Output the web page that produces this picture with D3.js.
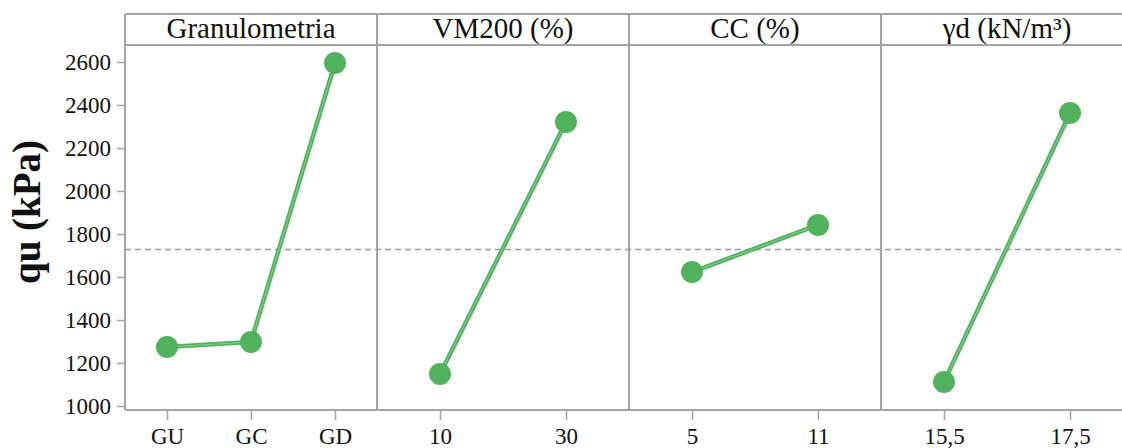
<!DOCTYPE html>
<html>
<head>
<meta charset="utf-8">
<script src="https://cdn.jsdelivr.net/npm/d3@7"></script>
<style>
  html, body { margin: 0; padding: 0; background: #fff; }
  svg { display: block; }
</style>
</head>
<body>
<svg id="chart" width="1122" height="448"></svg>
<script>
// Main-effects plot for qu (kPa): one panel per factor
const factors = ["Granulometria", "VM200 (%)", "CC (%)", "γd (kN/m³)"];
const levelsGranulometria = ["GU", "GC", "GD"];
const levelsVM200 = ["10", "30"];
const levelsCC = ["5", "11"];
const levelsGd = ["15,5", "17,5"];
const quGranulometria = [1274, 1298, 2595];
const quVM200 = [1149, 2321];
const quCC = [1623, 1842];
const quGd = [1112, 2363];
const grandMean = 1728;
const yTicks = [1000, 1200, 1400, 1600, 1800, 2000, 2200, 2400, 2600];

const panels = [
  { title: factors[0], levels: levelsGranulometria, values: quGranulometria },
  { title: factors[1], levels: levelsVM200, values: quVM200 },
  { title: factors[2], levels: levelsCC, values: quCC },
  { title: factors[3], levels: levelsGd, values: quGd }
];

const svg = d3.select("#chart");
const marginLeft = 125, panelW = 252, frameTop = 14, headerH = 31, frameBottom = 410;
const plotTop = frameTop + headerH;
const frameColor = "#a3a3a3";
const green = "#51b25d";
const font = "'Liberation Serif', 'Times New Roman', serif";

const y = d3.scaleLinear().domain([1000, 2600]).range([406, 62]);

// y axis
const yAxis = svg.append("g")
  .attr("transform", `translate(${marginLeft},0)`)
  .call(d3.axisLeft(y).tickValues(yTicks).tickSize(8).tickPadding(6).tickFormat(d3.format("d")));
yAxis.select(".domain").remove();
yAxis.selectAll(".tick line").attr("stroke", frameColor).attr("stroke-width", 1.5);
yAxis.selectAll(".tick text").attr("font-family", font).attr("font-size", 23).attr("fill", "#111");

// y axis title
svg.append("text")
  .attr("transform", `translate(40,212) rotate(-90)`)
  .attr("text-anchor", "middle")
  .attr("font-family", font)
  .attr("font-weight", "bold")
  .attr("font-size", 39)
  .attr("fill", "#111")
  .text("qu (kPa)");

const frameRight = marginLeft + panelW * panels.length;

// mean reference line
svg.append("line")
  .attr("x1", marginLeft).attr("x2", frameRight)
  .attr("y1", y(grandMean)).attr("y2", y(grandMean))
  .attr("stroke", "#9a9a9a").attr("stroke-width", 1.3)
  .attr("stroke-dasharray", "6,4");

panels.forEach((p, i) => {
  const x0 = marginLeft + i * panelW;
  const x = d3.scalePoint().domain(p.levels).range([x0, x0 + panelW]).padding(0.5);
  const g = svg.append("g");

  // header text
  g.append("text")
    .attr("x", x0 + panelW / 2)
    .attr("y", frameTop + 24)
    .attr("text-anchor", "middle")
    .attr("font-family", font)
    .attr("font-size", 29)
    .attr("fill", "#111")
    .text(p.title);

  // x axis
  const xa = svg.append("g")
    .attr("transform", `translate(0,${frameBottom})`)
    .call(d3.axisBottom(x).tickSize(10).tickPadding(8));
  xa.select(".domain").remove();
  xa.selectAll(".tick line").attr("stroke", frameColor).attr("stroke-width", 1.5);
  xa.selectAll(".tick text").attr("font-family", font).attr("font-size", 23).attr("fill", "#111");

  const pts = p.levels.map((l, k) => [x(l), y(p.values[k])]);
  const line = d3.line();
  g.append("path").attr("d", line(pts)).attr("fill", "none")
    .attr("stroke", green).attr("stroke-width", 4.5);
  g.append("path").attr("d", line(pts)).attr("fill", "none")
    .attr("stroke", "#8fd297").attr("stroke-width", 0.9);
  g.selectAll("circle").data(pts).join("circle")
    .attr("cx", d => d[0]).attr("cy", d => d[1]).attr("r", 11)
    .attr("fill", green);
});

// frame: header band, panel separators, left and bottom edges
const frame = svg.append("g").attr("stroke", frameColor).attr("stroke-width", 2).attr("fill", "none");
frame.append("line").attr("x1", marginLeft).attr("x2", frameRight).attr("y1", frameTop).attr("y2", frameTop);
frame.append("line").attr("x1", marginLeft).attr("x2", frameRight).attr("y1", plotTop).attr("y2", plotTop);
frame.append("line").attr("x1", marginLeft).attr("x2", frameRight).attr("y1", frameBottom).attr("y2", frameBottom);
d3.range(panels.length + 1).forEach(i => {
  const xx = marginLeft + i * panelW;
  frame.append("line").attr("x1", xx).attr("x2", xx).attr("y1", frameTop).attr("y2", frameBottom);
});
</script>
</body>
</html>
